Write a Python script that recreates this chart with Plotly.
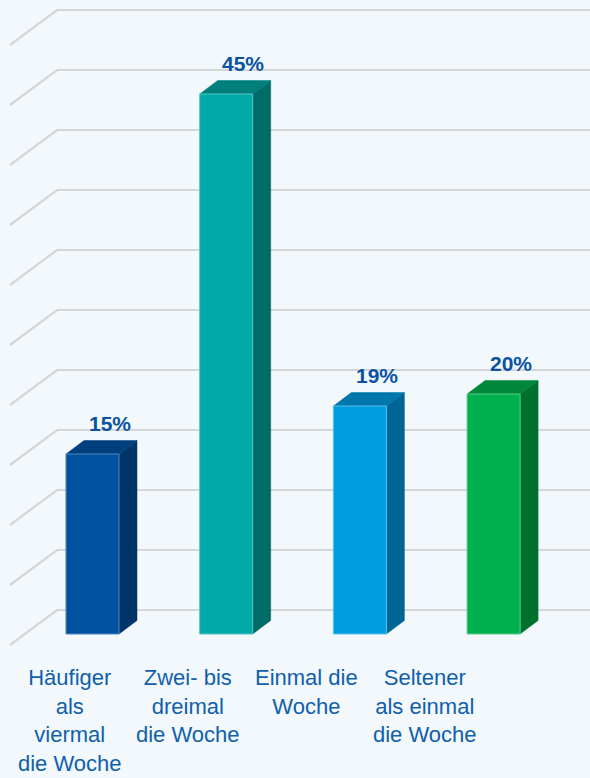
import plotly.graph_objects as go

# ---- data ----
categories = ["Häufiger<br>als<br>viermal<br>die Woche",
              "Zwei- bis<br>dreimal<br>die Woche",
              "Einmal die<br>Woche",
              "Seltener<br>als einmal<br>die Woche"]
values = [15, 45, 19, 20]
value_labels = ["15%", "45%", "19%", "20%"]
grid_values = [0, 5, 10, 15, 20, 25, 30, 35, 40, 45, 50]

front_colors = ["#0052a0", "#00aaa9", "#009de0", "#00b04f"]
top_colors = ["#003f7e", "#007f7c", "#0077aa", "#00873b"]
side_colors = ["#00356a", "#006c68", "#006494", "#00702f"]
edge_colors = ["#4f86c0", "#55c6c4", "#5cc0ee", "#5acb85"]

# ---- layout geometry (pixels, 12 px per percent point) ----
W, H = 590, 778
PX = 12.0
BASE = 634           # pixel row of front-plane 0%
def u(px_offset):    # convert a vertical pixel offset to percent units
    return px_offset / PX

BAR_X0, BAR_STEP, BAR_W = 66, 133.7, 53
DEPTH_X, DEPTH_Y = 18, u(13.5)
WALL_X_FRONT, WALL_X_BACK = 10, 57
WALL_FRONT_DY, WALL_BACK_DY = u(-11), u(24)
LABEL_X0, LABEL_STEP = 70, 118.3

fig = go.Figure()

# gridlines (back wall + left side wall)
for g in grid_values:
    fig.add_trace(go.Scatter(
        x=[WALL_X_FRONT, WALL_X_BACK, W + 5],
        y=[g + WALL_FRONT_DY, g + WALL_BACK_DY, g + WALL_BACK_DY],
        mode="lines", line=dict(color="#d4d6d8", width=2.2),
        hoverinfo="skip", showlegend=False))

# 3D bars
for i, v in enumerate(values):
    xl = BAR_X0 + BAR_STEP * i
    xr = xl + BAR_W
    # side face
    fig.add_trace(go.Scatter(
        x=[xr, xr, xr + DEPTH_X, xr + DEPTH_X, xr],
        y=[0, v, v + DEPTH_Y, DEPTH_Y, 0],
        fill="toself", fillcolor=side_colors[i], mode="lines",
        line=dict(color=side_colors[i], width=0.5),
        hoverinfo="skip", showlegend=False))
    # top face
    fig.add_trace(go.Scatter(
        x=[xl, xr, xr + DEPTH_X, xl + DEPTH_X, xl],
        y=[v, v, v + DEPTH_Y, v + DEPTH_Y, v],
        fill="toself", fillcolor=top_colors[i], mode="lines",
        line=dict(color=top_colors[i], width=0.5),
        hoverinfo="skip", showlegend=False))
    # front face
    fig.add_trace(go.Scatter(
        x=[xl, xr, xr, xl, xl],
        y=[0, 0, v, v, 0],
        fill="toself", fillcolor=front_colors[i], mode="lines",
        line=dict(color=edge_colors[i], width=1),
        hoverinfo="skip", showlegend=False))
    # value label
    fig.add_annotation(
        x=xl + DEPTH_X + BAR_W / 2 - 1, y=v + DEPTH_Y,
        text="<b>%s</b>" % value_labels[i], showarrow=False,
        xanchor="center", yanchor="bottom", yshift=4,
        font=dict(family="Liberation Sans, Arial, sans-serif", size=21, color="#0b52a0"))

# category labels
for i, c in enumerate(categories):
    fig.add_annotation(
        x=LABEL_X0 + LABEL_STEP * i, y=u(-29),
        text=c, showarrow=False, xanchor="center", yanchor="top",
        align="center",
        font=dict(family="Liberation Sans, Arial, sans-serif", size=22, color="#1060ab"))

fig.update_layout(
    width=W, height=H,
    margin=dict(l=0, r=0, t=0, b=0),
    paper_bgcolor="#f2f8fc", plot_bgcolor="#f2f8fc",
    xaxis=dict(range=[0, W], visible=False, fixedrange=True),
    yaxis=dict(range=[u(BASE - H), u(BASE)], visible=False, fixedrange=True),
    hovermode=False,
)

fig.write_html("out.html")
